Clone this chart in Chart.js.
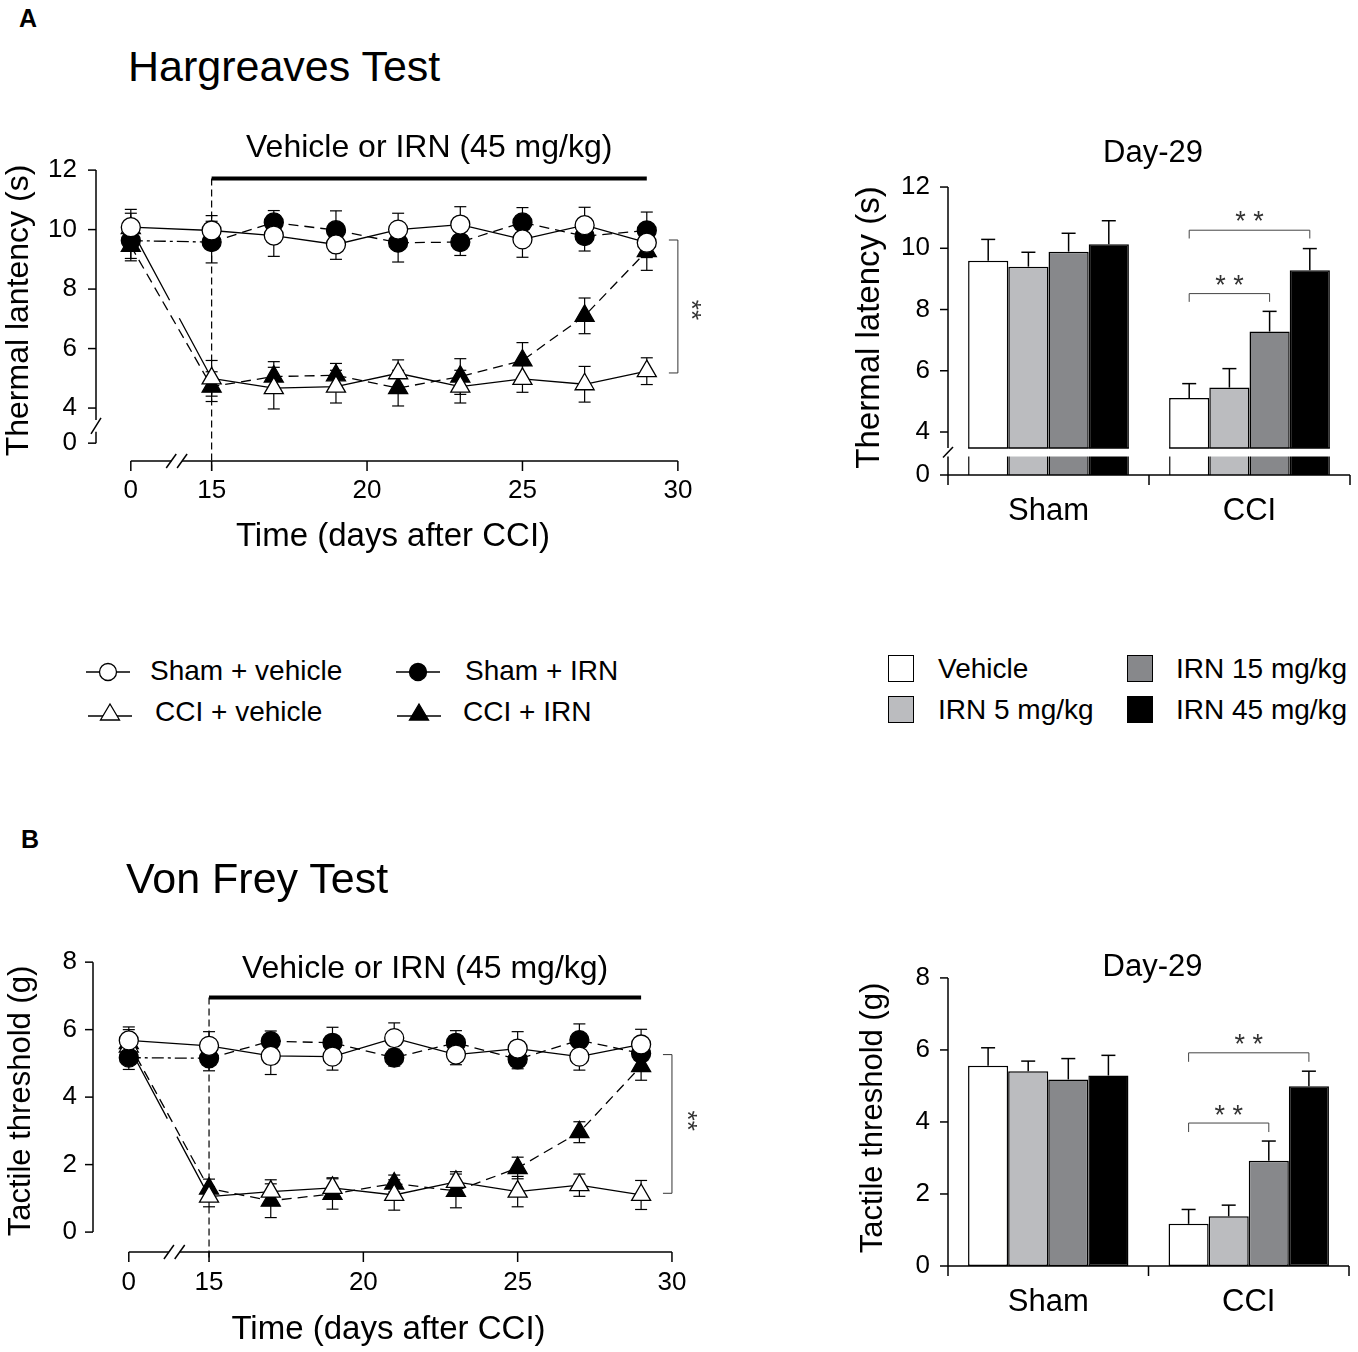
<!DOCTYPE html>
<html>
<head>
<meta charset="utf-8">
<script src="https://cdn.jsdelivr.net/npm/chart.js@4.4.1/dist/chart.umd.min.js"></script>
<style>
  body { margin: 0; background: #fff; width: 1358px; height: 1352px; position: relative; overflow: hidden;
         font-family: "Liberation Sans", Arial, sans-serif; color: #000; }
  canvas { position: absolute; }
  .t { position: absolute; white-space: nowrap; line-height: 1; }
  .lg { position: absolute; font-size: 28px; }
  .sq { position: absolute; width: 24px; height: 25px; border: 1.5px solid #000; }
  svg { position: absolute; }
</style>
</head>
<body>
<canvas id="lineA" width="720" height="480" style="left:0;top:100px"></canvas>
<canvas id="barA" width="518" height="430" style="left:840px;top:120px"></canvas>
<canvas id="lineB" width="720" height="452" style="left:0;top:900px"></canvas>
<canvas id="barB" width="518" height="422" style="left:840px;top:930px"></canvas>

<div class="t" style="left:19px;top:6px;font-size:25px;font-weight:bold">A</div>
<div class="t" style="left:128px;top:45px;font-size:43px">Hargreaves Test</div>
<div class="t" style="left:21px;top:827px;font-size:25px;font-weight:bold">B</div>
<div class="t" style="left:126px;top:857px;font-size:43px">Von Frey Test</div>

<!-- time-course legend -->
<svg style="left:86px;top:660px" width="44" height="24"><line x1="0" y1="12" x2="44" y2="12" stroke="#000" stroke-width="1.3"/><circle cx="22" cy="12" r="8.5" fill="#fff" stroke="#000" stroke-width="1.3"/></svg>
<div class="t lg" style="left:150px;top:657px">Sham + vehicle</div>
<svg style="left:396px;top:660px" width="44" height="24"><line x1="0" y1="12" x2="44" y2="12" stroke="#000" stroke-width="1.3"/><circle cx="22" cy="12" r="8.5" fill="#000" stroke="#000" stroke-width="1.3"/></svg>
<div class="t lg" style="left:465px;top:657px">Sham + IRN</div>
<svg style="left:88px;top:701px" width="44" height="24"><line x1="0" y1="15" x2="44" y2="15" stroke="#000" stroke-width="1.3"/><polygon points="22,3 31.5,19 12.5,19" fill="#fff" stroke="#000" stroke-width="1.3"/></svg>
<div class="t lg" style="left:155px;top:698px">CCI + vehicle</div>
<svg style="left:397px;top:701px" width="44" height="24"><line x1="0" y1="15" x2="44" y2="15" stroke="#000" stroke-width="1.3"/><polygon points="22,3 31.5,19 12.5,19" fill="#000" stroke="#000" stroke-width="1.3"/></svg>
<div class="t lg" style="left:463px;top:698px">CCI + IRN</div>

<!-- dose legend -->
<div class="sq" style="left:888px;top:655px;background:#ffffff"></div>
<div class="t lg" style="left:938px;top:655px">Vehicle</div>
<div class="sq" style="left:888px;top:696px;background:#bbbcbf"></div>
<div class="t lg" style="left:938px;top:696px">IRN 5 mg/kg</div>
<div class="sq" style="left:1127px;top:655px;background:#87888b"></div>
<div class="t lg" style="left:1176px;top:655px">IRN 15 mg/kg</div>
<div class="sq" style="left:1127px;top:696px;background:#000000"></div>
<div class="t lg" style="left:1176px;top:696px">IRN 45 mg/kg</div>

<script>
const FONT = '"Liberation Sans", Arial, sans-serif';
Chart.defaults.font.family = FONT;
Chart.defaults.color = '#000';

// time course
const days = [0, 15, 17, 19, 21, 23, 25, 27, 29];
const xTickDays = [0, 15, 20, 25, 30];
const DAY0 = 12.4; // day 0 sits left of the axis break

// Hargreaves, thermal latency (s), mean and SEM
const hgShamVeh    = [10.08, 9.97, 9.80, 9.50, 10.00, 10.17, 9.67, 10.15, 9.56];
const hgShamVehErr = [0.60, 0.50, 0.70, 0.50, 0.55, 0.60, 0.60, 0.60, 0.50];
const hgShamIrn    = [9.63, 9.58, 10.24, 9.98, 9.56, 9.58, 10.24, 9.78, 9.97];
const hgShamIrnErr = [0.60, 0.70, 0.40, 0.65, 0.65, 0.45, 0.50, 0.50, 0.62];
const hgCciVeh     = [10.05, 5.00, 4.67, 4.72, 5.17, 4.72, 4.98, 4.80, 5.24];
const hgCciVehErr  = [0.50, 0.60, 0.70, 0.55, 0.45, 0.55, 0.45, 0.60, 0.45];
const hgCciIrn     = [9.45, 4.72, 5.06, 5.10, 4.67, 5.06, 5.60, 7.10, 9.28];
const hgCciIrnErr  = [0.50, 0.50, 0.50, 0.40, 0.60, 0.60, 0.60, 0.60, 0.65];

// Von Frey, tactile threshold (g)
const vfShamVeh    = [5.68, 5.52, 5.22, 5.20, 5.75, 5.26, 5.44, 5.20, 5.56];
const vfShamVehErr = [0.40, 0.42, 0.55, 0.40, 0.45, 0.30, 0.50, 0.40, 0.45];
const vfShamIrn    = [5.17, 5.15, 5.66, 5.61, 5.17, 5.61, 5.12, 5.69, 5.29];
const vfShamIrnErr = [0.35, 0.37, 0.30, 0.46, 0.25, 0.36, 0.28, 0.48, 0.40];
const vfCciVeh     = [5.50, 1.05, 1.20, 1.31, 1.10, 1.49, 1.20, 1.39, 1.10];
const vfCciVehErr  = [0.40, 0.30, 0.35, 0.30, 0.45, 0.30, 0.45, 0.33, 0.43];
const vfCciIrn     = [5.60, 1.29, 0.93, 1.13, 1.44, 1.22, 1.90, 2.96, 4.92];
const vfCciIrnErr  = [0.40, 0.28, 0.50, 0.45, 0.25, 0.50, 0.32, 0.31, 0.42];

// day-29 bars
const barGroups = ['Sham', 'CCI'];
const doseLabels = ['Vehicle', 'IRN 5 mg/kg', 'IRN 15 mg/kg', 'IRN 45 mg/kg'];
const doseColors = ['#ffffff', '#bbbcbf', '#87888b', '#000000'];
const hgBarVeh = [9.59, 5.11],  hgBarVehErr = [0.70, 0.47];
const hgBar5   = [9.40, 5.45],  hgBar5Err   = [0.47, 0.62];
const hgBar15  = [9.89, 7.28],  hgBar15Err  = [0.60, 0.66];
const hgBar45  = [10.13, 9.28], hgBar45Err  = [0.77, 0.71];
const vfBarVeh = [5.56, 1.17],  vfBarVehErr = [0.50, 0.40];
const vfBar5   = [5.41, 1.38],  vfBar5Err   = [0.28, 0.31];
const vfBar15  = [5.18, 2.92],  vfBar15Err  = [0.58, 0.55];
const vfBar45  = [5.29, 4.99],  vfBar45Err  = [0.56, 0.42];

const xOf = d => d === 0 ? DAY0 : d;
const pts = vals => days.map((d, i) => ({ x: xOf(d), y: vals[i] }));

function seg(ctx, c) {
  ctx.beginPath(); ctx.moveTo(c[0], c[1]); ctx.lineTo(c[2], c[3]); ctx.stroke();
}

// first segment (day 0 -> 15) of the solid CCI line is cut at the axis break
const brokenFirst = ctx => {
  if (ctx.p0DataIndex !== 0) return undefined;
  const L = Math.hypot(ctx.p1.x - ctx.p0.x, ctx.p1.y - ctx.p0.y);
  return [L * 0.48, L * 0.12, L];
};
const dashDotFirst = ctx => ctx.p0DataIndex === 0 ? [12, 4, 3, 4] : undefined;

function lineSet(label, vals, errs, style, filled, dashed, firstDash) {
  return {
    label, data: pts(vals), errors: errs,
    borderColor: '#000', borderWidth: 1.3,
    borderDash: dashed ? [10, 6] : [],
    pointStyle: style, pointRadius: style === 'triangle' ? 11 : 9.5,
    pointBackgroundColor: filled ? '#000' : '#fff',
    pointBorderColor: '#000', pointBorderWidth: 1.3,
    segment: firstDash ? { borderDash: firstDash } : {}
  };
}

const lineDecor = {
  id: 'lineDecor',
  beforeDatasetsDraw(chart, args, o) {
    const { ctx, chartArea } = chart, xs = chart.scales.x, ys = chart.scales.y;
    ctx.save();
    ctx.strokeStyle = '#000';
    ctx.lineWidth = 1.2;
    ctx.setLineDash([7, 4]);
    const xg = xs.getPixelForValue(o.barFrom);
    seg(ctx, [xg, ys.getPixelForValue(o.barY), xg, chartArea.bottom + 10]);
    ctx.setLineDash([]);
    chart.data.datasets.forEach((ds, i) => {
      chart.getDatasetMeta(i).data.forEach((p, j) => {
        const v = ds.data[j].y, e = ds.errors[j];
        const y1 = ys.getPixelForValue(v + e), y2 = ys.getPixelForValue(v - e);
        seg(ctx, [p.x, y1, p.x, y2]);
        seg(ctx, [p.x - 6, y1, p.x + 6, y1]);
        seg(ctx, [p.x - 6, y2, p.x + 6, y2]);
      });
    });
    ctx.restore();
  },
  afterDraw(chart, args, o) {
    const { ctx, chartArea } = chart, xs = chart.scales.x, ys = chart.scales.y;
    const L = chartArea.left, B = chartArea.bottom;
    ctx.save();
    ctx.strokeStyle = '#000';
    ctx.fillStyle = '#000';
    ctx.lineWidth = 1.5;
    // y axis
    const yT = ys.getPixelForValue(o.yTicks[o.yTicks.length - 1]);
    const yB = ys.getPixelForValue(o.yTicks[0]);
    if (o.yBreak) {
      const b1 = ys.getPixelForValue(o.yBreak[0]), b2 = ys.getPixelForValue(o.yBreak[1]);
      seg(ctx, [L, yT, L, b1]);
      seg(ctx, [L, b2, L, yB]);
      seg(ctx, [L - 5, b2 + 2, L + 5, b1 - 2]);
    } else {
      seg(ctx, [L, yT, L, yB]);
    }
    o.yTicks.forEach(v => { const y = ys.getPixelForValue(v); seg(ctx, [L - 8, y, L, y]); });
    // x axis with break
    const x0 = xs.getPixelForValue(xOf(0)), x1 = xs.getPixelForValue(30);
    const g1 = xs.getPixelForValue(o.xBreak[0]), g2 = xs.getPixelForValue(o.xBreak[1]);
    seg(ctx, [x0, B, g1, B]);
    seg(ctx, [g2, B, x1, B]);
    seg(ctx, [g1 - 5, B + 7, g1 + 5, B - 7]);
    seg(ctx, [g2 - 5, B + 7, g2 + 5, B - 7]);
    xTickDays.forEach(d => { const x = xs.getPixelForValue(xOf(d)); seg(ctx, [x, B, x, B + 10]); });
    // treatment bar and note
    ctx.lineWidth = 4;
    const yb = ys.getPixelForValue(o.barY);
    seg(ctx, [xs.getPixelForValue(o.barFrom), yb, xs.getPixelForValue(o.barTo), yb]);
    ctx.font = '32px ' + FONT;
    ctx.textAlign = 'center';
    ctx.textBaseline = 'middle';
    ctx.fillText('Vehicle or IRN (45 mg/kg)', xs.getPixelForValue(o.noteX), ys.getPixelForValue(o.noteY));
    // significance bracket
    ctx.lineWidth = 1;
    ctx.strokeStyle = '#333';
    const bx = xs.getPixelForValue(o.brX);
    const by1 = ys.getPixelForValue(o.brTop), by2 = ys.getPixelForValue(o.brBottom);
    seg(ctx, [bx, by1, bx, by2]);
    seg(ctx, [bx - 9, by1, bx, by1]);
    seg(ctx, [bx - 9, by2, bx, by2]);
    ctx.translate(xs.getPixelForValue(o.starX), ys.getPixelForValue(o.starY));
    ctx.rotate(Math.PI / 2);
    ctx.font = '26px ' + FONT;
    ctx.fillStyle = '#333';
    ctx.fillText('**', 0, 0);
    ctx.restore();
  }
};

function lineChart(id, sets, c) {
  return new Chart(document.getElementById(id), {
    type: 'line',
    data: { datasets: sets },
    options: {
      responsive: false, animation: false,
      layout: { padding: { left: 0, top: c.padTop, right: c.padRight, bottom: 0 } },
      plugins: { legend: { display: false }, tooltip: { enabled: false }, lineDecor: c.decor },
      scales: {
        x: {
          type: 'linear', min: c.xMin, max: c.xMax,
          afterFit: s => { s.height = c.xH; },
          afterBuildTicks: s => { s.ticks = xTickDays.map(d => ({ value: xOf(d) })); },
          ticks: { callback: v => v === DAY0 ? '0' : v, font: { size: 26 }, padding: c.xTickPad,
                   autoSkip: false, maxRotation: 0 },
          grid: { display: false, drawTicks: false }, border: { display: false },
          title: { display: true, text: 'Time (days after CCI)', font: { size: 33 },
                   padding: { top: 0, bottom: c.xTitlePad } }
        },
        y: {
          min: c.yMin, max: c.yMax,
          afterFit: s => { s.width = c.yW; },
          afterBuildTicks: s => { s.ticks = c.decor.yTicks.map(v => ({ value: v })); },
          ticks: { callback: v => v === c.yZero ? '0' : v, font: { size: 26 }, padding: c.yTickPad, autoSkip: false },
          grid: { display: false, drawTicks: false }, border: { display: false },
          title: { display: true, text: c.yTitle, font: { size: c.yTitleSize }, padding: { top: c.yTitlePad, bottom: 0 } }
        }
      }
    },
    plugins: [lineDecor]
  });
}

const barDecor = {
  id: 'barDecor',
  afterDatasetsDraw(chart, args, o) {
    const { ctx, chartArea } = chart, ys = chart.scales.y;
    ctx.save();
    ctx.strokeStyle = '#000';
    if (o.yBreak) {
      const b1 = ys.getPixelForValue(o.yBreak[0]), b2 = ys.getPixelForValue(o.yBreak[1]);
      ctx.fillStyle = '#fff';
      ctx.fillRect(chartArea.left + 1, b1, chartArea.right - chartArea.left, b2 - b1);
      ctx.lineWidth = 1.5;
      chart.data.datasets.forEach((ds, i) => {
        chart.getDatasetMeta(i).data.forEach(p => {
          seg(ctx, [p.x - p.width / 2, b1, p.x + p.width / 2, b1]);
        });
      });
    }
    // error bars (upper only)
    ctx.lineWidth = 1.5;
    chart.data.datasets.forEach((ds, i) => {
      chart.getDatasetMeta(i).data.forEach((p, j) => {
        const ye = ys.getPixelForValue(ds.data[j] + ds.errors[j]);
        seg(ctx, [p.x, p.y, p.x, ye]);
        seg(ctx, [p.x - 7, ye, p.x + 7, ye]);
      });
    });
    // significance brackets
    ctx.lineWidth = 1;
    ctx.strokeStyle = '#444';
    ctx.fillStyle = '#333';
    ctx.font = '27px ' + FONT;
    ctx.textAlign = 'center';
    ctx.textBaseline = 'middle';
    o.brackets.forEach(b => {
      const xa = chart.getDatasetMeta(b.from).data[b.cat].x;
      const xb = chart.getDatasetMeta(b.to).data[b.cat].x;
      const y = ys.getPixelForValue(b.y), yd = ys.getPixelForValue(b.y - b.drop);
      ctx.beginPath();
      ctx.moveTo(xa, yd); ctx.lineTo(xa, y); ctx.lineTo(xb, y); ctx.lineTo(xb, yd);
      ctx.stroke();
      ctx.fillText('* *', (xa + xb) / 2, ys.getPixelForValue(b.star) + 5);
    });
    ctx.restore();
  },
  afterDraw(chart, args, o) {
    const { ctx, chartArea } = chart, ys = chart.scales.y;
    const L = chartArea.left, R = chartArea.right, B = chartArea.bottom;
    ctx.save();
    ctx.strokeStyle = '#000';
    ctx.lineWidth = 1.5;
    const yT = ys.getPixelForValue(o.yTicks[o.yTicks.length - 1]);
    if (o.yBreak) {
      const b1 = ys.getPixelForValue(o.yBreak[0]), b2 = ys.getPixelForValue(o.yBreak[1]);
      seg(ctx, [L, yT, L, b1]);
      seg(ctx, [L, b2, L, B]);
      seg(ctx, [L - 5, b2 + 1, L + 5, b1 - 1]);
    } else {
      seg(ctx, [L, yT, L, B]);
    }
    o.yTicks.forEach(v => { const y = ys.getPixelForValue(v); seg(ctx, [L - 8, y, L, y]); });
    seg(ctx, [L, B, R, B]);
    [L, (L + R) / 2, R].forEach(x => seg(ctx, [x, B, x, B + 10]));
    ctx.fillStyle = '#000';
    ctx.font = '31px ' + FONT;
    ctx.textAlign = 'center';
    ctx.textBaseline = 'middle';
    ctx.fillText('Day-29', (L + R) / 2 + 4, ys.getPixelForValue(o.titleY));
    ctx.restore();
  }
};

function barChart(id, vals, errs, c) {
  return new Chart(document.getElementById(id), {
    type: 'bar',
    data: {
      labels: barGroups,
      datasets: vals.map((v, i) => ({
        label: doseLabels[i], data: v, errors: errs[i],
        backgroundColor: doseColors[i], borderColor: '#000', borderWidth: 1.5,
        borderSkipped: false, categoryPercentage: 0.8, barPercentage: 1.0
      }))
    },
    options: {
      responsive: false, animation: false,
      layout: { padding: { left: 0, top: c.padTop, right: c.padRight, bottom: 0 } },
      plugins: { legend: { display: false }, tooltip: { enabled: false }, barDecor: c.decor },
      scales: {
        x: {
          afterFit: s => { s.height = c.xH; },
          ticks: { font: { size: 31 }, padding: c.xTickPad },
          grid: { display: false, drawTicks: false }, border: { display: false }
        },
        y: {
          min: c.yMin, max: c.yMax,
          afterFit: s => { s.width = c.yW; },
          afterBuildTicks: s => { s.ticks = c.decor.yTicks.map(v => ({ value: v })); },
          ticks: { callback: v => v === c.yZero ? '0' : v, font: { size: 26 }, padding: c.yTickPad, autoSkip: false },
          grid: { display: false, drawTicks: false }, border: { display: false },
          title: { display: true, text: c.yTitle, font: { size: c.yTitleSize }, padding: { top: c.yTitlePad, bottom: 0 } }
        }
      }
    },
    plugins: [barDecor]
  });
}

lineChart('lineA', [
  lineSet('Sham + vehicle', hgShamVeh, hgShamVehErr, 'circle', false, false, null),
  lineSet('Sham + IRN', hgShamIrn, hgShamIrnErr, 'circle', true, true, dashDotFirst),
  lineSet('CCI + vehicle', hgCciVeh, hgCciVehErr, 'triangle', false, false, brokenFirst),
  lineSet('CCI + IRN', hgCciIrn, hgCciIrnErr, 'triangle', true, true, null)
], {
  padTop: 60, padRight: 30, yW: 96, xH: 119,
  xMin: 11.28, xMax: 30.39, yMin: 2.22, yMax: 12.34, yZero: 2.82,
  xTickPad: 14, yTickPad: 19, xTitlePad: 23, yTitlePad: 0, yTitleSize: 32,
  yTitle: 'Thermal lantency (s)',
  decor: { yTicks: [2.82, 4, 6, 8, 10, 12], yBreak: [3.6, 3.2], xBreak: [13.7, 14.05],
           barY: 11.72, barFrom: 15, barTo: 29, noteX: 22, noteY: 12.74,
           brX: 30.0, brTop: 9.65, brBottom: 5.18, starX: 30.4, starY: 7.3 }
});

lineChart('lineB', [
  lineSet('Sham + vehicle', vfShamVeh, vfShamVehErr, 'circle', false, false, null),
  lineSet('Sham + IRN', vfShamIrn, vfShamIrnErr, 'circle', true, true, dashDotFirst),
  lineSet('CCI + vehicle', vfCciVeh, vfCciVehErr, 'triangle', false, false, brokenFirst),
  lineSet('CCI + IRN', vfCciIrn, vfCciIrnErr, 'triangle', true, true, null)
], {
  padTop: 50, padRight: 36, yW: 93, xH: 100,
  xMin: 11.24, xMax: 30.39, yMin: -0.59, yMax: 8.36, yZero: null,
  xTickPad: 15, yTickPad: 16, xTitlePad: 2, yTitlePad: 3, yTitleSize: 31,
  yTitle: 'Tactile threshold (g)',
  decor: { yTicks: [0, 2, 4, 6, 8], yBreak: null, xBreak: [13.7, 14.05],
           barY: 6.95, barFrom: 15, barTo: 29, noteX: 22, noteY: 7.78,
           brX: 30.0, brTop: 5.26, brBottom: 1.15, starX: 30.45, starY: 3.3 }
});

barChart('barA', [hgBarVeh, hgBar5, hgBar15, hgBar45], [hgBarVehErr, hgBar5Err, hgBar15Err, hgBar45Err], {
  padTop: 60, padRight: 8, yW: 108, xH: 75,
  yMin: 2.596, yMax: 12.23, yZero: 2.596,
  xTickPad: 18, yTickPad: 18, yTitlePad: 10, yTitleSize: 33,
  yTitle: 'Thermal latency (s)',
  decor: { yTicks: [2.596, 4, 6, 8, 10, 12], yBreak: [3.48, 3.2], titleY: 13.11,
           brackets: [ { from: 0, to: 3, cat: 1, y: 10.59, drop: 0.27, star: 11.0 },
                       { from: 0, to: 2, cat: 1, y: 8.52, drop: 0.27, star: 8.9 } ] }
});

barChart('barB', [vfBarVeh, vfBar5, vfBar15, vfBar45], [vfBarVehErr, vfBar5Err, vfBar15Err, vfBar45Err], {
  padTop: 40, padRight: 9, yW: 108, xH: 86,
  yMin: 0, yMax: 8.22, yZero: null,
  xTickPad: 18, yTickPad: 18, yTitlePad: 15, yTitleSize: 31,
  yTitle: 'Tactile threshold (g)',
  decor: { yTicks: [0, 2, 4, 6, 8], yBreak: null, titleY: 8.28,
           brackets: [ { from: 0, to: 3, cat: 1, y: 5.92, drop: 0.25, star: 6.27 },
                       { from: 0, to: 2, cat: 1, y: 3.97, drop: 0.25, star: 4.3 } ] }
});
</script>
</body>
</html>
